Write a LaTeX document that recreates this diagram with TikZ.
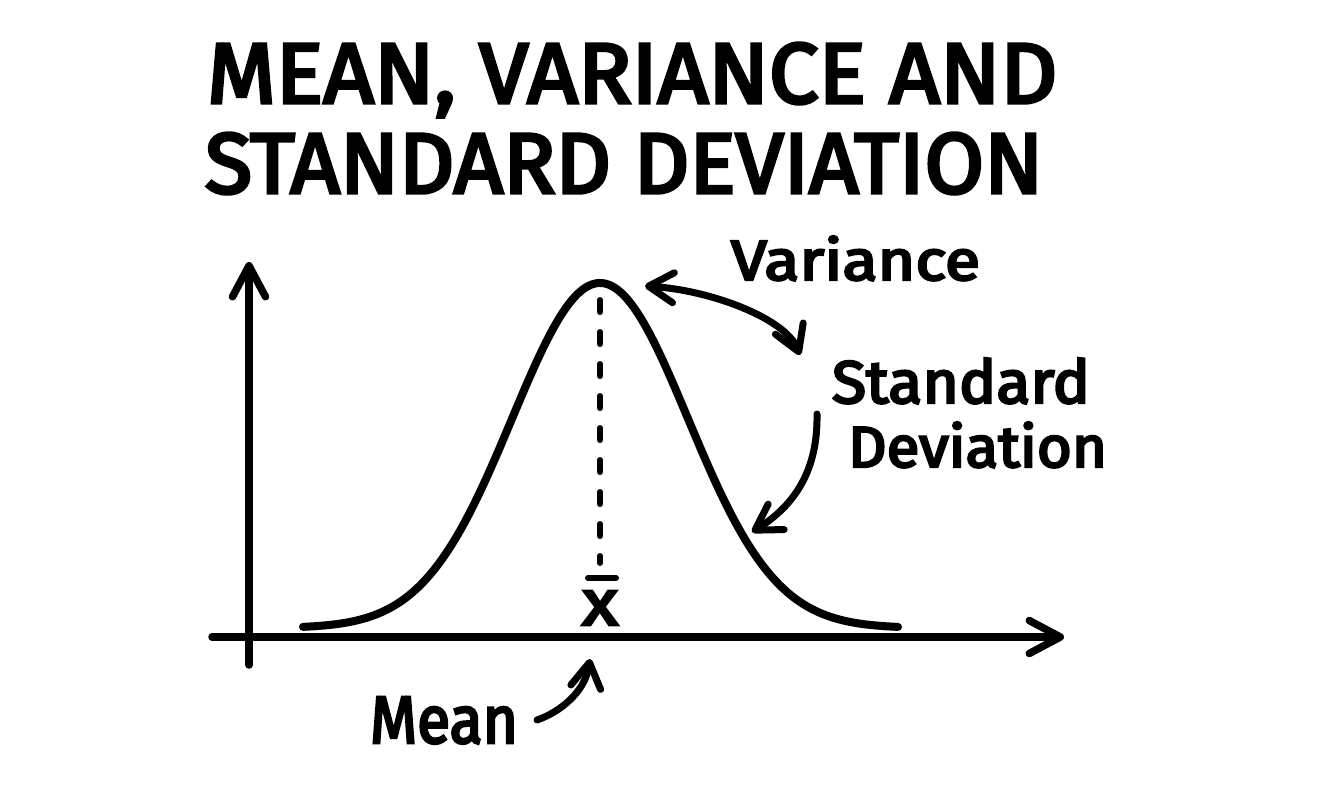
\documentclass[tikz,border=0pt]{standalone}
\usepackage{fontspec}
\setmainfont{Fira Sans}[FakeBold=4]
\usetikzlibrary{arrows.meta}
\newcommand{\fitto}[3]{\resizebox{#1pt}{#2pt}{#3}}
\tikzset{
  lbl/.style={inner sep=0pt, outer sep=0pt, anchor=base west},
  axis/.style={line width=7.5pt, line cap=round, line join=round,
    -{Straight Barb[length=31pt,width=33pt,round]}},
  bell/.style={line width=8pt, line cap=round, line join=round},
  guide/.style={line width=6pt, line cap=round, dash pattern=on 12pt off 20pt},
  pointer/.style={line width=7pt, line cap=round,
    -{Straight Barb[length=25pt,width=30pt,round]}},
  dblpointer/.style={line width=7pt, line cap=round,
    {Straight Barb[length=25pt,width=30pt,round]}-{Straight Barb[length=25pt,width=30pt,round]}},
}
\begin{document}
\begin{tikzpicture}[x=1pt,y=-1pt]
\useasboundingbox[fill=white] (0,0) rectangle (1321,801);

% title
\node[lbl] (t1) at (207,103) {\fitto{850}{60}{MEAN, VARIANCE AND}};
\node[lbl] (t2) at (205,193) {\fitto{838}{60}{STANDARD DEVIATION}};

% axes
\coordinate (yb) at (249,665);
\coordinate (yt) at (249,262);
\coordinate (xl) at (212,637);
\coordinate (xr) at (1064,637);
\draw[axis] (yb) -- (yt);
\draw[axis] (xl) -- (xr);

% bell curve
\draw[bell] plot[domain=303:898, samples=160, smooth]
  (\x, {628-345*exp(-((\x-600)/88)^2/2)});

% mean marker
\coordinate (peak) at (600,300);
\coordinate (dashend) at (600,563);
\draw[guide] (peak) -- (dashend);
\node[lbl, anchor=base] (xbar) at (600,625) {\fitto{36}{34}{x}};
\draw[line width=6pt, line cap=round] (588,578) -- (616,578);

% labels
\node[lbl] (var) at (731,280) {\fitto{249}{44}{Variance}};
\node[lbl] (sd1) at (832,403) {\fitto{258}{45}{Standard}};
\node[lbl] (sd2) at (848,467) {\fitto{259}{45}{Deviation}};
\node[lbl] (mean) at (370,743) {\fitto{148}{46}{Mean}};

% arrows
\coordinate (vA) at (645,286);
\coordinate (vB) at (800,355);
\draw[dblpointer] (vA) .. controls (710,290) and (785,318) .. (vB);

\coordinate (sA) at (817,414);
\coordinate (sB) at (752,532);
\draw[pointer] (sA) .. controls (818,470) and (795,505) .. (sB);

\coordinate (mA) at (537,720);
\coordinate (mB) at (590,659);
\draw[pointer] (mA) .. controls (560,712) and (585,692) .. (mB);
\end{tikzpicture}
\end{document}
